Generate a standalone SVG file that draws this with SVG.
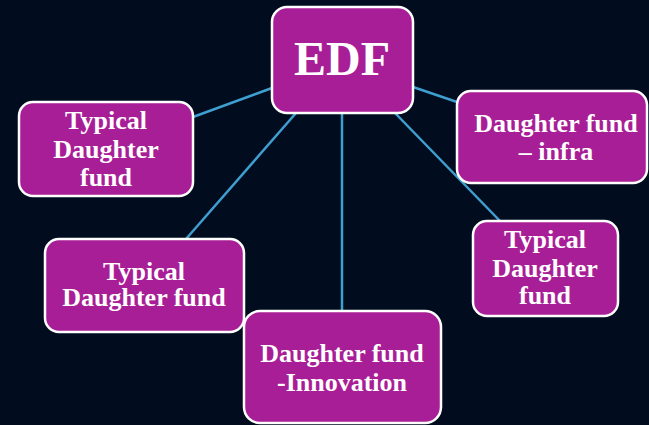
<svg xmlns="http://www.w3.org/2000/svg" width="649" height="425" viewBox="0 0 649 425">
<style>
.box{fill:#a81e96;stroke:#ffffff;stroke-width:2.5}
.t{font-family:"Liberation Serif","Times New Roman",serif;font-weight:bold;font-size:26px;fill:#ffffff;text-anchor:middle}
.edf{font-size:48px}
.c{stroke:#3f9fd0;stroke-width:2.5;fill:none}
</style>
<rect x="0" y="0" width="649" height="425" fill="#010d1f"/>
<g id="connectors">
<line class="c" x1="272" y1="88" x2="193" y2="117"/>
<line class="c" x1="296" y1="113" x2="186" y2="239"/>
<line class="c" x1="342" y1="113" x2="342" y2="311"/>
<line class="c" x1="395" y1="113" x2="500" y2="221"/>
<line class="c" x1="413" y1="87" x2="457" y2="102"/>
</g>
<g id="edf">
<rect class="box" x="272" y="7" width="141" height="106" rx="15"/>
<text class="t edf" x="342" y="75">EDF</text>
</g>
<g id="typical-left">
<rect class="box" x="19" y="102" width="174" height="94" rx="14"/>
<text class="t" x="106" y="129">Typical</text>
<text class="t" x="106" y="158">Daughter</text>
<text class="t" x="106" y="186">fund</text>
</g>
<g id="infra">
<rect class="box" x="457" y="91" width="190" height="92" rx="14"/>
<text class="t" x="556" y="132">Daughter fund</text>
<text class="t" x="556" y="160">– infra</text>
</g>
<g id="typical-bottom-left">
<rect class="box" x="45" y="239" width="199" height="93" rx="14"/>
<text class="t" x="144" y="280">Typical</text>
<text class="t" x="144" y="306">Daughter fund</text>
</g>
<g id="innovation">
<rect class="box" x="244" y="311" width="197" height="112" rx="16"/>
<text class="t" x="342" y="362">Daughter fund</text>
<text class="t" x="342" y="391">-Innovation</text>
</g>
<g id="typical-right">
<rect class="box" x="473" y="221" width="145" height="95" rx="14"/>
<text class="t" x="545" y="248">Typical</text>
<text class="t" x="545" y="277">Daughter</text>
<text class="t" x="545" y="304">fund</text>
</g>
</svg>
